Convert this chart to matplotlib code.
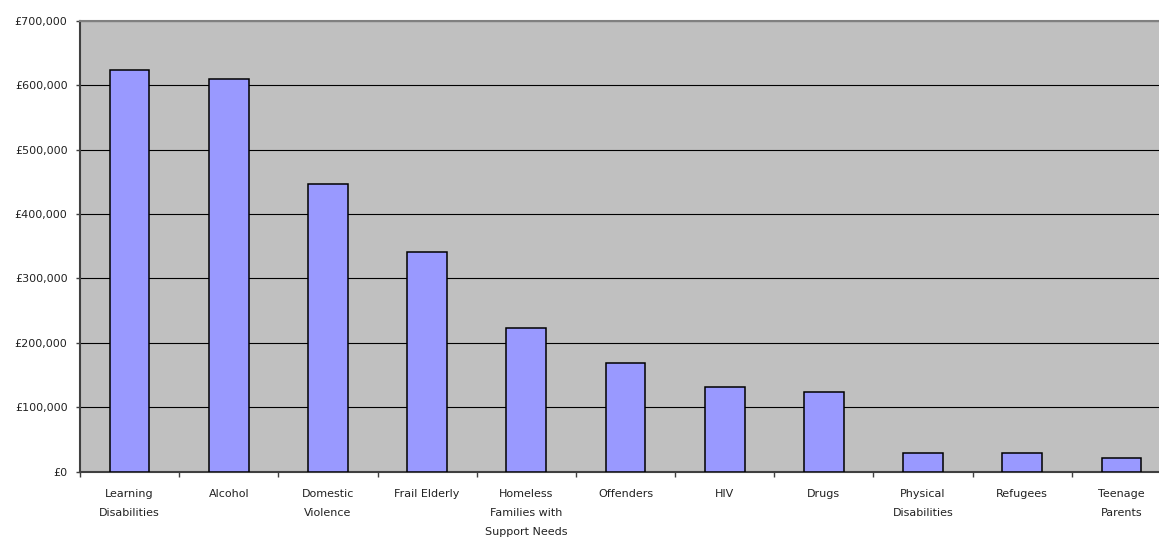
import numpy as np
import matplotlib
matplotlib.use('Agg')
import matplotlib.pyplot as plt
from matplotlib.ticker import FuncFormatter, FixedLocator

plt.rcParams['font.family'] = ['DejaVu Sans']

# client groups and spend
groups = ["Learning\nDisabilities", "Alcohol", "Domestic\nViolence", "Frail Elderly",
          "Homeless\nFamilies with\nSupport Needs", "Offenders", "HIV", "Drugs",
          "Physical\nDisabilities", "Refugees", "Teenage\nParents"]
spend = [624000, 609000, 447000, 341500, 223000, 169000, 131500, 123700, 29000, 28500, 21700]

fig = plt.figure(figsize=(11.59, 5.38), dpi=100)
# plot area runs a little past the right edge, as in the original
ax = fig.add_axes([80/1159, 66.3/538, 1091/1159, 451/538])
ax.set_facecolor('#C0C0C0')

x = np.arange(len(groups))
ax.bar(x, spend, width=0.40, color='#9999FF', edgecolor='black', linewidth=1.1, zorder=3)

ax.set_xlim(-0.5, len(groups) - 0.5)
ax.set_ylim(0, 700000)
ax.set_yticks(np.arange(0, 700001, 100000))
ax.yaxis.set_major_formatter(FuncFormatter(lambda v, p: "£{:,.0f}".format(v)))
ax.grid(axis='y', color='black', linewidth=0.8, zorder=1)

ax.set_xticks(x)
ax.set_xticklabels(groups, linespacing=2.13, va='top')
ax.xaxis.set_minor_locator(FixedLocator(np.arange(-0.5, len(groups), 1.0)))
ax.tick_params(axis='x', which='major', length=0, pad=12.5, labelsize=8, labelcolor='#222222')
ax.tick_params(axis='x', which='minor', length=3.8, width=1, color='#404040', direction='out')
ax.tick_params(axis='y', length=3, width=1, color='#404040', pad=6, labelsize=8, labelcolor='#222222')

ax.spines['top'].set_color('#808080')
ax.spines['top'].set_linewidth(1.5)
ax.spines['left'].set_color('#404040')
ax.spines['left'].set_linewidth(1.5)
ax.spines['bottom'].set_color('#404040')
ax.spines['bottom'].set_linewidth(1.5)
ax.spines['right'].set_visible(False)

fig.savefig('out.png', dpi=100)
